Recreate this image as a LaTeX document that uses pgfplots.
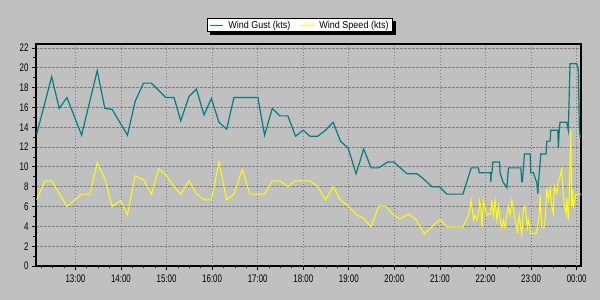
\documentclass[border=0pt]{standalone}
\usepackage{fontspec}
\setmainfont{Liberation Sans}
\newfontfamily\tickfont{Liberation Sans}[FakeStretch=0.72]
\newfontfamily\legfont{Liberation Sans}[FakeStretch=0.9]
\usepackage{pgfplots}
\pgfplotsset{compat=1.18}
\definecolor{bg}{HTML}{C0C0C0}
\definecolor{gust}{HTML}{008080}
\definecolor{speed}{HTML}{FFFF00}
\definecolor{gridc}{HTML}{808080}
\pgfdeclarelayer{bgl}
\pgfsetlayers{bgl,main}
\begin{document}
\begin{tikzpicture}
\begin{axis}[
  at={(0,0)}, anchor=south west,
  scale only axis, width=545bp, height=222bp,
  xmin=12.135, xmax=24.095, ymin=0, ymax=22.4,
  axis background/.style={fill=bg},
  axis line style={line width=1.5bp, black},
  ytick={0,2,...,22}, minor ytick={1,3,...,21},
  xtick={13,14,15,16,17,18,19,20,21,22,23,24},
  xticklabels={\mbox{13:00},\mbox{14:00},\mbox{15:00},\mbox{16:00},\mbox{17:00},\mbox{18:00},\mbox{19:00},\mbox{20:00},\mbox{21:00},\mbox{22:00},\mbox{23:00},\mbox{00:00}},
  minor xtick={12.25,12.5,12.75,13.25,13.5,13.75,14.25,14.5,14.75,15.25,15.5,15.75,16.25,16.5,16.75,17.25,17.5,17.75,18.25,18.5,18.75,19.25,19.5,19.75,20.25,20.5,20.75,21.25,21.5,21.75,22.25,22.5,22.75,23.25,23.5,23.75},
  xtick pos=bottom, ytick pos=left, tick align=outside,
  major tick length=4bp, minor tick length=2.5bp,
  every tick/.style={black, line width=0.8bp},
  /pgf/number format/assume math mode=true,
  tick label style={font=\tickfont\fontsize{11bp}{13bp}\selectfont, black},
  xticklabel style={yshift=-1bp},
  grid=major,
  x grid style={gridc, line width=0.9bp, dash pattern=on 1bp off 2bp},
  y grid style={gridc, line width=0.9bp, dash pattern=on 2.5bp off 1.5bp},
  extra x ticks={16,18,20,24},
  extra x tick labels={},
  extra x tick style={major tick length=0pt, grid=major, major grid style={solid, gridc, line width=1.2bp}},
  legend columns=2,
  legend style={name=leg, at={(0.4844,1)}, anchor=south, yshift=12bp,
    draw=black, fill=white, line width=1bp,
    inner xsep=2bp, inner ysep=0.5bp,
    font=\legfont\fontsize{10bp}{12bp}\selectfont,
    /tikz/every odd column/.append style={column sep=3bp},
    /tikz/every even column/.append style={column sep=9bp},
    nodes={inner sep=1.5bp}},
  legend image code/.code={\draw[#1, line width=1bp] (0bp,0bp) -- (13bp,0bp);},
]
\addplot[gust, line width=1.2bp, mark=none] coordinates {
(12.150,13.3) (12.479,19.1) (12.645,15.9) (12.814,17.0) (13.136,13.2)
(13.478,19.7) (13.646,15.9) (13.806,15.8) (14.143,13.2) (14.310,16.6)
(14.494,18.45) (14.669,18.45) (14.982,17.0) (15.164,17.0) (15.311,14.65)
(15.493,17.1) (15.655,17.85) (15.822,15.25) (15.984,16.9) (16.150,14.5)
(16.319,13.8) (16.479,17.0) (17.004,17.0) (17.151,13.2) (17.320,15.9)
(17.486,15.15) (17.662,15.15) (17.830,13.1) (17.999,13.7) (18.144,13.1)
(18.319,13.1) (18.487,13.7) (18.656,14.5) (18.816,12.6) (18.985,11.9)
(19.160,9.3) (19.326,11.8) (19.489,9.9) (19.655,9.9) (19.852,10.5)
(19.984,10.5) (20.131,9.9) (20.277,9.3) (20.496,9.3) (20.612,8.9)
(20.825,8.0) (20.991,8.0) (21.153,7.25) (21.504,7.25) (21.686,9.9)
(21.846,9.9) (21.861,9.4) (22.110,9.4) (22.117,8.5) (22.125,9.4)
(22.140,9.4) (22.161,10.5) (22.306,10.5) (22.321,9.4) (22.380,8.5)
(22.468,7.9) (22.503,9.9) (22.774,9.9) (22.796,8.5) (22.809,8.5)
(22.853,11.3) (22.978,11.3) (22.993,9.4) (23.050,9.4) (23.125,8.4)
(23.147,7.3) (23.160,8.4) (23.200,10.5) (23.213,11.3) (23.329,11.3)
(23.344,12.6) (23.416,12.6) (23.432,13.7) (23.585,13.7) (23.598,11.9)
(23.620,13.8) (23.635,14.5) (23.782,14.5) (23.817,13.7) (23.854,20.4)
(24.001,20.4) (24.036,19.8) (24.058,14.1) (24.074,13.1) (24.095,13.1)
};
\addlegendentry{Wind Gust (kts)}
\addplot[speed, line width=1bp, mark=none] coordinates {
(12.150,6.7) (12.332,8.6) (12.479,8.6) (12.814,6.0) (13.136,7.25)
(13.318,7.25) (13.478,10.4) (13.646,8.8) (13.806,6.0) (13.990,6.6)
(14.143,5.2) (14.310,9.1) (14.494,8.7) (14.669,7.25) (14.823,9.8)
(14.982,9.2) (15.164,8.0) (15.311,7.25) (15.493,8.6) (15.655,7.3)
(15.822,6.67) (15.984,6.67) (16.150,10.5) (16.319,6.67) (16.479,7.25)
(16.663,9.75) (16.829,7.25) (17.151,7.25) (17.320,8.6) (17.486,8.6)
(17.662,8.0) (17.830,8.6) (18.144,8.6) (18.319,8.0) (18.487,6.67)
(18.656,8.0) (18.816,6.67) (18.985,6.05) (19.160,5.2) (19.326,4.8)
(19.489,3.95) (19.655,6.05) (19.802,6.05) (19.984,5.15) (20.131,4.75)
(20.306,5.25) (20.466,4.75) (20.656,3.25) (21.000,4.7) (21.153,3.95)
(21.504,3.95) (21.627,5.15) (21.664,6.0) (21.686,6.6) (21.723,5.15)
(21.736,4.65) (21.773,5.15) (21.811,4.65) (21.846,5.15) (21.868,6.6)
(21.898,6.0) (21.920,3.87) (21.955,6.6) (21.992,5.83) (22.029,5.15)
(22.102,5.25) (22.139,6.5) (22.174,5.15) (22.211,6.6) (22.249,4.65)
(22.284,6.0) (22.321,4.65) (22.358,3.87) (22.393,4.65) (22.430,3.87)
(22.468,5.15) (22.503,6.0) (22.540,5.15) (22.577,6.6) (22.612,5.83)
(22.650,4.65) (22.687,3.87) (22.700,3.3) (22.737,5.15) (22.774,3.87)
(22.796,3.2) (22.831,5.83) (22.869,6.0) (22.890,5.15) (22.919,3.87)
(22.941,4.65) (22.978,3.87) (22.993,3.3) (23.110,3.3) (23.138,3.87)
(23.182,5.15) (23.197,7.17) (23.234,3.87) (23.285,3.87) (23.307,4.65)
(23.344,7.8) (23.379,6.7) (23.416,7.85) (23.453,6.0) (23.489,5.3)
(23.510,8.0) (23.563,7.35) (23.598,8.5) (23.635,9.0) (23.672,9.85)
(23.694,7.85) (23.723,6.3) (23.767,5.3) (23.782,6.9) (23.817,4.65)
(23.839,7.6) (23.870,13.6) (23.892,6.0) (23.913,7.65) (23.927,6.0)
(23.986,7.25) (24.095,7.25)
};
\addlegendentry{Wind Speed (kts)}
\end{axis}
\begin{pgfonlayer}{bgl}
\fill[bg] (-36bp,-34bp) rectangle (564bp,266bp);
\fill[black] ([xshift=3bp,yshift=-3bp]leg.south west) rectangle ([xshift=3bp,yshift=-3bp]leg.north east);
\end{pgfonlayer}
\end{tikzpicture}
\end{document}
